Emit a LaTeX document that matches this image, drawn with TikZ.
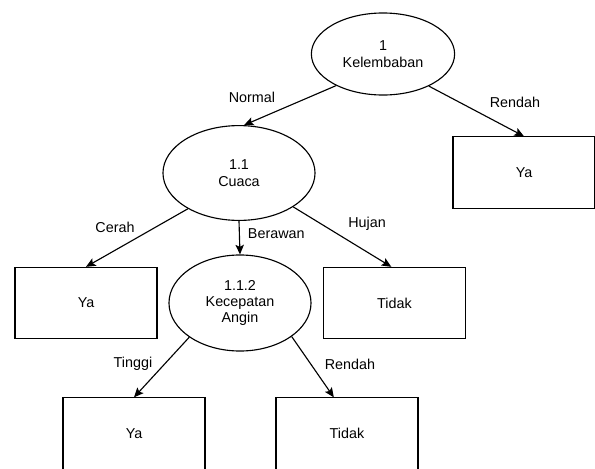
\documentclass[tikz,border=0pt]{standalone}
\usepackage{fontspec}
\setmainfont{Liberation Sans}
\usetikzlibrary{shapes.geometric, arrows.meta}

\begin{document}
\begin{tikzpicture}[>={Stealth[length=2.4mm, width=2.1mm, inset=0.5mm]}, x=0.025cm, y=-0.025cm, line width=0.8pt,
        every node/.style={font=\fontsize{10.2}{11.7}\selectfont},
        decision/.style={draw, ellipse, align=center, inner sep=0pt},
        leaf/.style={draw, rectangle, inner sep=0pt, minimum width=3.55cm, minimum height=1.78cm},
        edgetext/.style={inner sep=1pt}]
            \useasboundingbox (0, 0) rectangle (595, 469);

            % Nodes
            \node[decision, minimum width=3.58cm, minimum height=2.05cm] at (383, 54) (root) {1\\Kelembaban};
            \node[decision, minimum width=3.8cm, minimum height=2.37cm] at (239, 173) (cuaca) {1.1\\Cuaca};
            \node[leaf] at (524, 172.5) (ya1) {Ya};
            \node[leaf] at (86, 303) (ya2) {Ya};
            \node[decision, minimum width=3.55cm, minimum height=2.4cm] at (240, 303) (angin) {1.1.2\\Kecepatan\\Angin};
            \node[leaf] at (394.5, 303) (tidak1) {Tidak};
            \node[leaf] at (134, 433.5) (ya3) {Ya};
            \node[leaf] at (347, 433.5) (tidak2) {Tidak};

            % Edges
            \draw[->] (root.214) -- (cuaca.84);
            \draw[->] (root.325) -- (ya1.north);
            \draw[->] (cuaca.215) -- (ya2.north);
            \draw[->] (cuaca.south) -- (angin.north);
            \draw[->] (cuaca.328) -- (tidak1.95);
            \draw[->] (angin.214) -- (ya3.north);
            \draw[->] (angin.327) -- (tidak2.110);

            % Edge labels
            \node[edgetext] at (252, 97) (normal) {Normal};
            \node[edgetext] at (515, 102) (rendah1) {Rendah};
            \node[edgetext] at (115, 227) (cerah) {Cerah};
            \node[edgetext, anchor=west] at (246, 234) (berawan) {Berawan};
            \node[edgetext] at (367, 224) (hujan) {Hujan};
            \node[edgetext] at (133, 364) (tinggi) {Tinggi};
            \node[edgetext] at (350, 364) (rendah2) {Rendah};
        \end{tikzpicture}
\end{document}
